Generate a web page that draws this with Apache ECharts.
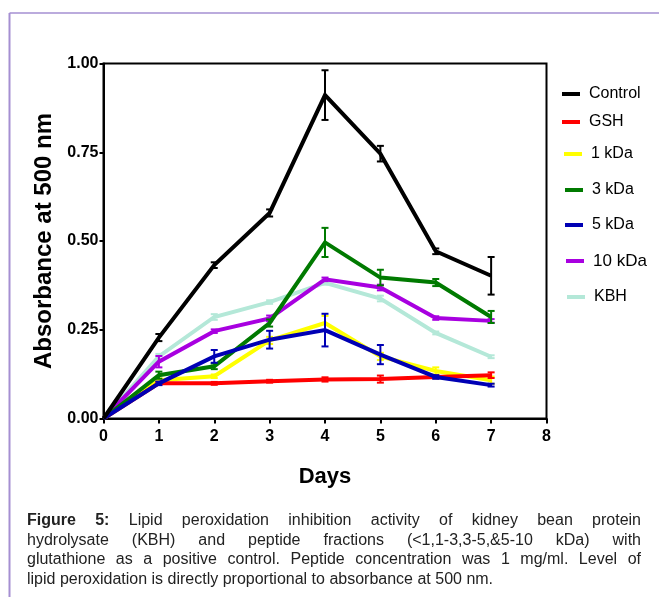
<!DOCTYPE html>
<html>
<head>
<meta charset="utf-8">
<script src="https://cdn.jsdelivr.net/npm/echarts@6/dist/echarts.min.js"></script>
<style>
html,body{margin:0;padding:0;background:#fff;}
#chart{width:659px;height:597px;}
</style>
</head>
<body>
<div id="chart"></div>
<script>
// ---- data ----
const days = [0, 1, 2, 3, 4, 5, 6, 7];
const xTicks = [0, 1, 2, 3, 4, 5, 6, 7, 8];
const yTicks = [0, 0.25, 0.5, 0.75, 1.0];
const seriesNames = ['Control', 'GSH', '1 kDa', '3 kDa', '5 kDa', '10 kDa', 'KBH'];

const control    = [0, 0.228, 0.432, 0.579, 0.911, 0.746, 0.471, 0.402];
const controlErr = [0, 0.010, 0.008, 0.010, 0.070, 0.022, 0.008, 0.053];
const gsh        = [0, 0.099, 0.099, 0.105, 0.110, 0.111, 0.117, 0.122];
const gshErr     = [0, 0.004, 0.004, 0.004, 0.006, 0.010, 0.004, 0.008];
const kda1       = [0, 0.108, 0.119, 0.220, 0.269, 0.175, 0.134, 0.108];
const kda1Err    = [0, 0.005, 0.005, 0.010, 0.020, 0.010, 0.010, 0.010];
const kda3       = [0, 0.122, 0.147, 0.269, 0.496, 0.397, 0.383, 0.286];
const kda3Err    = [0, 0.010, 0.008, 0.010, 0.041, 0.022, 0.010, 0.017];
const kda5       = [0, 0.099, 0.175, 0.222, 0.249, 0.180, 0.117, 0.094];
const kda5Err    = [0, 0.005, 0.018, 0.025, 0.046, 0.027, 0.005, 0.004];
const kda10      = [0, 0.160, 0.246, 0.282, 0.392, 0.369, 0.283, 0.275];
const kda10Err   = [0, 0.016, 0.005, 0.008, 0.005, 0.008, 0.005, 0.005];
const kbh        = [0, 0.175, 0.286, 0.328, 0.382, 0.338, 0.241, 0.174];
const kbhErr     = [0, 0.007, 0.008, 0.005, 0.005, 0.008, 0.004, 0.004];

const captionLines = [
  'Figure 5: Lipid peroxidation inhibition activity of kidney bean protein',
  'hydrolysate (KBH) and peptide fractions (<1,1-3,3-5,&5-10 kDa) with',
  'glutathione as a positive control. Peptide concentration was 1 mg/ml. Level of',
  'lipid peroxidation is directly proportional to absorbance at 500 nm.'
];

// ---- styling ----
const colors = {
  'Control': '#000000', 'GSH': '#ff0000', '1 kDa': '#ffff00', '3 kDa': '#007a00',
  '5 kDa': '#0000b4', '10 kDa': '#a800e0', 'KBH': '#b4e8d8'
};
const valuesBy = {
  'Control': [control, controlErr], 'GSH': [gsh, gshErr], '1 kDa': [kda1, kda1Err],
  '3 kDa': [kda3, kda3Err], '5 kDa': [kda5, kda5Err], '10 kDa': [kda10, kda10Err], 'KBH': [kbh, kbhErr]
};
const drawOrder = ['KBH', '10 kDa', '1 kDa', 'GSH', '3 kDa', '5 kDa', 'Control'];

const series = [];
drawOrder.forEach(function (name, i) {
  const vals = valuesBy[name][0], errs = valuesBy[name][1];
  series.push({
    name: name, type: 'line', data: days.map(function (d, k) { return [d, vals[k]]; }),
    symbol: 'none', lineStyle: { color: colors[name], width: 4, join: 'miter' },
    itemStyle: { color: colors[name] }, z: 2 + i, animation: false
  });
  series.push({
    name: name + ' err', type: 'custom', z: 2 + i, animation: false,
    data: days.map(function (d, k) { return [d, vals[k] - errs[k], vals[k] + errs[k]]; }).filter(function (r, k) { return errs[k] > 0; }),
    renderItem: function (params, api) {
      const lo = api.coord([api.value(0), api.value(1)]);
      const hi = api.coord([api.value(0), api.value(2)]);
      const hw = 3.5;
      const st = { stroke: colors[name], lineWidth: 2 };
      return { type: 'group', children: [
        { type: 'line', shape: { x1: lo[0], y1: lo[1], x2: hi[0], y2: hi[1] }, style: st },
        { type: 'line', shape: { x1: lo[0] - hw, y1: lo[1], x2: lo[0] + hw, y2: lo[1] }, style: st },
        { type: 'line', shape: { x1: hi[0] - hw, y1: hi[1], x2: hi[0] + hw, y2: hi[1] }, style: st }
      ]};
    }
  });
});

// legends: one per entry to reproduce irregular spacing
const legendPos = {
  'Control': [562, 95, 16], 'GSH': [562, 123, 16], '1 kDa': [564, 155, 16],
  '3 kDa': [565, 191, 16], '5 kDa': [565, 226, 16], '10 kDa': [566, 262, 17], 'KBH': [567, 298, 16]
};
const legends = seriesNames.map(function (name) {
  const p = legendPos[name];
  return {
    data: [{ name: name, icon: 'rect' }], left: p[0], top: p[1] - p[2] / 2 - 1, padding: 0,
    itemWidth: 18, itemHeight: 4, selectedMode: false,
    textStyle: { fontFamily: 'Liberation Sans, Arial', fontSize: p[2], color: '#000', padding: [0, 0, 0, 4] }
  };
});

// caption (justified)
const captionFont = '16px "Liberation Sans", Arial, sans-serif';
const captionBold = 'bold 16px "Liberation Sans", Arial, sans-serif';
const cv = document.createElement('canvas').getContext('2d');
function measure(t, f) { cv.font = f; return cv.measureText(t).width; }
const capLeft = 27, capRight = 641, capTop = 521, capStep = 19.5;
const graphics = [
  { type: 'line', shape: { x1: 9.5, y1: 13, x2: 9.5, y2: 597 }, style: { stroke: '#a58fd2', lineWidth: 2 } },
  { type: 'line', shape: { x1: 9.5, y1: 13, x2: 659, y2: 13 }, style: { stroke: '#a58fd2', lineWidth: 1.5 } }
];
captionLines.forEach(function (line, li) {
  const words = line.split(' ');
  const fonts = words.map(function (w, wi) { return (li === 0 && wi < 2) ? captionBold : captionFont; });
  const widths = words.map(function (w, wi) { return measure(w, fonts[wi]); });
  const total = widths.reduce(function (a, b) { return a + b; }, 0);
  const justify = li < captionLines.length - 1;
  const gap = justify ? (capRight - capLeft - total) / (words.length - 1) : measure(' ', captionFont);
  let x = capLeft;
  words.forEach(function (w, wi) {
    graphics.push({ type: 'text', x: x, y: capTop + li * capStep,
      style: { text: w, font: fonts[wi], fill: '#222', textVerticalAlign: 'middle', verticalAlign: 'middle' } });
    x += widths[wi] + gap;
  });
});

const axisFont = { fontFamily: 'Liberation Sans, Arial', fontWeight: 'bold', fontSize: 16, color: '#000' };

const chart = echarts.init(document.getElementById('chart'), null, { renderer: 'canvas' });
chart.setOption({
  animation: false,
  backgroundColor: '#fff',
  grid: { left: 103.5, right: 112.5, top: 63.5, bottom: 178.5, show: true, borderColor: '#000', borderWidth: 2, backgroundColor: 'transparent' },
  legend: legends,
  xAxis: {
    type: 'value', min: xTicks[0], max: xTicks[xTicks.length - 1], interval: 1,
    name: 'Days', nameLocation: 'middle', nameGap: 47,
    nameTextStyle: { fontFamily: 'Liberation Sans, Arial', fontWeight: 'bold', fontSize: 22, color: '#000' },
    axisLine: { lineStyle: { color: '#000', width: 2 } },
    axisTick: { show: true, length: 5, lineStyle: { color: '#000', width: 2 } },
    axisLabel: Object.assign({ margin: 10, formatter: function (v) { return String(v); } }, axisFont),
    splitLine: { show: false }
  },
  yAxis: {
    type: 'value', min: yTicks[0], max: yTicks[yTicks.length - 1], interval: 0.25,
    name: 'Absorbance at 500 nm', nameLocation: 'middle', nameGap: 47,
    nameTextStyle: { fontFamily: 'Liberation Sans, Arial', fontWeight: 'bold', fontSize: 24, color: '#000' },
    axisLine: { lineStyle: { color: '#000', width: 2 } },
    axisTick: { show: true, length: 4, lineStyle: { color: '#000', width: 2 } },
    axisLabel: Object.assign({ margin: 5, formatter: function (v) { return v.toFixed(2); } }, axisFont),
    splitLine: { show: false }
  },
  graphic: graphics,
  series: series
});
</script>
</body>
</html>
